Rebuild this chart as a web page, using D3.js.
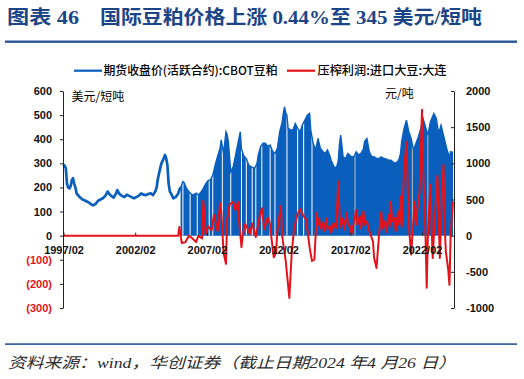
<!DOCTYPE html>
<html><head><meta charset="utf-8">
<script src="https://cdn.jsdelivr.net/npm/d3@7"></script>
<style>body{margin:0;background:#fff} svg{display:block}</style>
</head><body><svg id="c" width="524" height="379"></svg>
<script>
// ---- data ----
const priceDates = ["1997-02","1997-03","1997-04","1997-05","1997-06","1997-07","1997-08","1997-09","1997-10","1997-11","1997-12",
"1998-01","1998-02","1998-04","1998-06","1998-08","1998-10","1998-12","1999-01","1999-03","1999-05","1999-07","1999-09","1999-11",
"2000-01","2000-03","2000-04","2000-06","2000-08","2000-10","2000-11","2001-01","2001-03","2001-05","2001-07","2001-09","2001-11",
"2002-01","2002-03","2002-05","2002-07","2002-09","2002-11","2003-01","2003-03","2003-05","2003-07","2003-08","2003-09","2003-10","2003-11","2003-12",
"2004-01","2004-03","2004-04","2004-05","2004-06","2004-07","2004-09","2004-10","2004-12","2005-02","2005-03",
"2005-04","2005-06","2005-07","2005-09","2005-11","2006-01","2006-03","2006-05","2006-07","2006-09","2006-11",
"2007-01","2007-03","2007-05","2007-07","2007-09","2007-11","2008-01","2008-02","2008-04","2008-06","2008-07","2008-08","2008-10","2008-12",
"2009-02","2009-04","2009-06","2009-07","2009-09","2009-11","2010-01","2010-03","2010-06","2010-08","2010-09","2010-11",
"2011-01","2011-03","2011-05","2011-07","2011-09","2011-11","2012-01","2012-03","2012-05","2012-06","2012-07","2012-08","2012-09","2012-10","2012-12",
"2013-02","2013-04","2013-06","2013-08","2013-10","2013-12","2014-02","2014-04","2014-05","2014-07","2014-09","2014-11",
"2015-01","2015-03","2015-05","2015-07","2015-09","2015-10","2016-01","2016-03","2016-04","2016-05","2016-06","2016-07","2016-08","2016-10","2016-12",
"2017-03","2017-05","2017-07","2017-09","2017-11","2018-01","2018-02","2018-03","2018-04","2018-06","2018-08","2018-10","2018-12",
"2019-02","2019-04","2019-06","2019-08","2019-10","2019-12","2020-02","2020-04","2020-06","2020-07","2020-08","2020-09","2020-11",
"2021-01","2021-03","2021-05","2021-07","2021-09","2021-11","2022-01","2022-03","2022-05","2022-07","2022-09","2022-12",
"2023-02","2023-04","2023-06","2023-09","2023-11","2024-01","2024-02","2024-04"];
const priceValues = [295,290,280,215,200,196,205,230,238,215,200,
175,169,158,150,146,141,135,130,126,132,145,150,155,
165,183,175,165,158,175,189,172,165,160,170,165,160,
155,160,165,175,170,168,173,176,168,185,200,235,258,280,300,
310,335,320,294,217,185,165,155,160,175,190,
200,225,220,196,182,172,169,176,169,180,196,
215,228,231,251,293,330,362,397,341,431,420,390,265,286,
334,383,431,360,330,320,293,286,279,300,334,370,
383,383,370,376,350,341,362,431,470,507,534,510,500,445,440,
438,465,445,431,460,479,500,507,438,383,355,403,
362,350,341,355,330,313,279,290,313,380,417,376,327,320,341,
327,327,348,335,341,360,390,397,403,348,327,327,320,
320,327,320,318,313,313,305,300,310,320,340,390,445,
479,431,403,355,383,410,445,486,452,417,472,507,
486,424,458,397,355,327,348,345];
const areaStart = "2005-04";   // from here the futures series is drawn filled to zero

const spreadDates = ["1997-02","2005-02","2005-03","2005-05","2005-08","2005-11","2006-02","2006-05","2006-07","2006-10","2006-11",
"2007-01","2007-03","2007-06","2007-08","2007-11","2008-01","2008-02","2008-04","2008-06","2008-07","2008-09","2008-12",
"2009-02","2009-04","2009-05","2009-07","2009-08","2009-10","2009-12","2010-02","2010-04","2010-07","2010-10","2010-12",
"2011-02","2011-05","2011-07","2011-08","2011-09","2011-10","2011-12","2012-01","2012-04","2012-05","2012-08","2012-11",
"2013-01","2013-03","2013-06","2013-08","2013-10","2014-01","2014-04","2014-06","2014-08","2014-10","2014-11","2014-12",
"2015-01","2015-03","2015-04","2015-06","2015-07","2015-09","2015-10","2015-12","2016-02","2016-03","2016-04","2016-05","2016-06","2016-08","2016-09","2016-11","2016-12",
"2017-02","2017-03","2017-05","2017-07","2017-08","2017-10","2017-11","2018-01","2018-02","2018-04","2018-06","2018-09","2018-10","2018-12",
"2019-02","2019-04","2019-05","2019-07","2019-08","2019-10","2019-11","2019-12",
"2020-01","2020-03","2020-04","2020-06","2020-07","2020-08","2020-09","2020-11","2021-01","2021-02","2021-03","2021-05","2021-06","2021-08","2021-09","2021-10","2021-12",
"2022-02","2022-03","2022-05","2022-06","2022-07","2022-09","2022-10","2022-11","2023-01","2023-03","2023-04","2023-05","2023-07","2023-08",
"2023-09","2023-10","2023-12","2024-01","2024-02","2024-04"];
const spreadValues = [0,0,120,-100,-90,0,-40,-90,0,-40,483,
20,130,70,290,60,450,340,-240,-390,220,430,470,
350,470,200,-160,0,160,100,20,170,-20,250,380,
90,250,160,-20,-160,-300,-230,80,415,0,-350,-860,
-240,100,300,370,300,220,-160,-350,-330,313,150,240,
100,175,60,240,90,130,40,175,100,400,750,313,120,240,80,313,150,
130,20,175,355,150,270,100,336,150,200,60,-80,-310,-446,
0,330,100,200,50,290,120,470,
200,244,60,336,150,540,120,890,1300,700,150,-260,14,470,150,336,610,
1740,935,14,-720,14,704,150,-310,336,830,244,-310,700,980,
150,-216,-470,-680,14,470];

const gapDates = ["2005-06","2005-12","2006-06","2007-04","2007-07","2008-03","2008-10","2009-07","2009-11","2010-04","2010-07","2010-12","2011-07","2011-11","2012-09","2013-06","2013-11","2014-06"];
const grayGapDates = ["2017-06","2021-06","2022-07"];

const leftTicks = [-300,-200,-100,0,100,200,300,400,500,600];
const rightTicks = [-1000,-500,0,500,1000,1500,2000];
const xTickDates = ["1997-02","2002-02","2007-02","2012-02","2017-02","2022-02"];
const domainDates = ["1997-02-01","2024-04-26"];

const titleLeft = "图表 46";
const titleRight = "国际豆粕价格上涨 0.44%至 345 美元/短吨";
const legendNames = ["期货收盘价(活跃合约):CBOT豆粕","压榨利润:进口大豆:大连"];
const unitLeft = "美元/短吨", unitRight = "元/吨";
const sourceText = "资料来源：wind，华创证券（截止日期2024 年4 月26 日）";

// ---- drawing ----
const BLUE = "#0a5fbd", RED = "#e3131b", NAVY = "#1c4587";
const pm = d3.timeParse("%Y-%m"), pd = d3.timeParse("%Y-%m-%d");
const svg = d3.select("#c");
const x = d3.scaleTime().domain(domainDates.map(pd)).range([63.5, 454]);
const yL = d3.scaleLinear().domain([-300, 600]).range([308, 91]);
const yR = d3.scaleLinear().domain([-1000, 2000]).range([308, 91]);

const price = priceDates.map((d, i) => ({d: pm(d), v: priceValues[i]}));
const spread = spreadDates.map((d, i) => ({d: pm(d), v: spreadValues[i]}));
const aStart = pm(areaStart);

// title
svg.append("text").attr("x", 7).attr("y", 24).attr("fill", NAVY)
  .attr("font-family", "'Liberation Serif','Noto Sans CJK SC'").attr("font-weight", "bold").attr("font-size", 19)
  .attr("textLength", 72).attr("lengthAdjust", "spacingAndGlyphs").text(titleLeft);
svg.append("text").attr("x", 100).attr("y", 24).attr("fill", NAVY)
  .attr("font-family", "'Liberation Serif','Noto Sans CJK SC'").attr("font-weight", "bold").attr("font-size", 19)
  .attr("textLength", 382).attr("lengthAdjust", "spacingAndGlyphs").text(titleRight);
svg.append("rect").attr("x", 5).attr("y", 40.5).attr("width", 512).attr("height", 2.4).attr("fill", "#2a5696");

// legend
const lg = svg.append("g").attr("font-family", "'Noto Sans CJK SC',sans-serif").attr("font-size", 12)
  .attr("font-weight", 500).attr("fill", "#000");
lg.append("line").attr("x1", 74).attr("x2", 102).attr("y1", 70.7).attr("y2", 70.7).attr("stroke", BLUE).attr("stroke-width", 2.2);
lg.append("text").attr("x", 103.5).attr("y", 75).attr("textLength", 174).attr("lengthAdjust", "spacingAndGlyphs").text(legendNames[0]);
lg.append("line").attr("x1", 287).attr("x2", 315).attr("y1", 70.7).attr("y2", 70.7).attr("stroke", RED).attr("stroke-width", 2.2);
lg.append("text").attr("x", 317.5).attr("y", 75).attr("textLength", 129).attr("lengthAdjust", "spacingAndGlyphs").text(legendNames[1]);

// units
svg.append("text").attr("x", 71.5).attr("y", 101).attr("font-family", "'Noto Sans CJK SC',sans-serif").attr("font-size", 12).attr("fill", "#000").text(unitLeft);
svg.append("text").attr("x", 385).attr("y", 98).attr("font-family", "'Noto Sans CJK SC',sans-serif").attr("font-size", 12).attr("fill", "#000").text(unitRight);

const plot = svg.append("g");

// blue filled part
const areaData = price.filter(p => p.d >= aStart);
const area = d3.area().x(p => x(p.d)).y0(yL(0)).y1(p => yL(p.v));
const clip = svg.append("defs").append("clipPath").attr("id", "ac");
clip.append("path").attr("d", area(areaData));
plot.append("path").attr("d", area(areaData)).attr("fill", BLUE);
// gaps in filled part
const gg = plot.append("g").attr("clip-path", "url(#ac)");
gg.selectAll("line.w").data(gapDates.map(pm)).join("line")
  .attr("x1", d => x(d)).attr("x2", d => x(d)).attr("y1", yL(0)).attr("y2", yL(600))
  .attr("stroke", "#fff").attr("stroke-width", 1);
gg.selectAll("line.g").data(grayGapDates.map(pm)).join("line")
  .attr("x1", d => x(d)).attr("x2", d => x(d)).attr("y1", yL(0)).attr("y2", yL(600))
  .attr("stroke", "#bdbdbd").attr("stroke-width", 1);
// blue line part
const line = d3.line().x(p => x(p.d)).y(p => yL(p.v));
plot.append("path").attr("d", line(price.filter(p => p.d <= aStart)))
  .attr("fill", "none").attr("stroke", BLUE).attr("stroke-width", 2.7).attr("stroke-linejoin", "round");
plot.append("path").attr("d", line(areaData))
  .attr("fill", "none").attr("stroke", BLUE).attr("stroke-width", 1.4);

// red line
const lineR = d3.line().x(p => x(p.d)).y(p => yR(p.v));
plot.append("path").attr("d", lineR(spread)).attr("fill", "none").attr("stroke", RED)
  .attr("stroke-width", 2).attr("stroke-linejoin", "round");

// axes
const axFont = g => g.selectAll("text").attr("font-family", "'Liberation Sans',Arial,sans-serif")
  .attr("font-weight", "bold").attr("font-size", 11).attr("fill", "#111");
const gL = svg.append("g").attr("transform", "translate(63,0)")
  .call(d3.axisLeft(yL).tickValues(leftTicks).tickSizeInner(3).tickSizeOuter(0).tickPadding(8)
    .tickFormat(d => d < 0 ? `(${-d})` : String(d))).call(axFont);
gL.selectAll(".tick text").filter(d => d < 0).attr("fill", RED);
const gR = svg.append("g").attr("transform", "translate(454,0)")
  .call(d3.axisRight(yR).tickValues(rightTicks).tickSizeInner(-3).tickSizeOuter(0).tickPadding(12)
    .tickFormat(d => String(d))).call(axFont);
const gX = svg.append("g").attr("transform", `translate(0,${yL(0)})`)
  .call(d3.axisBottom(x).tickValues(xTickDates.map(pm)).tickSizeInner(-3).tickSizeOuter(0).tickPadding(11)
    .tickFormat(d3.timeFormat("%Y/%m"))).call(axFont);
gX.select(".domain").remove();
[gL, gR, gX].forEach(g => { g.selectAll("line,path").attr("stroke", "#222"); });

// footer
svg.append("rect").attr("x", 5).attr("y", 343.3).attr("width", 512).attr("height", 1.6).attr("fill", "#2a5696");
svg.append("text").attr("x", 8).attr("y", 368).attr("font-family", "'Liberation Serif','Noto Sans CJK SC',serif")
  .attr("font-style", "italic").attr("font-size", 15).attr("fill", "#2b2b2b")
  .attr("textLength", 448).attr("lengthAdjust", "spacingAndGlyphs").text(sourceText);
</script></body></html>
